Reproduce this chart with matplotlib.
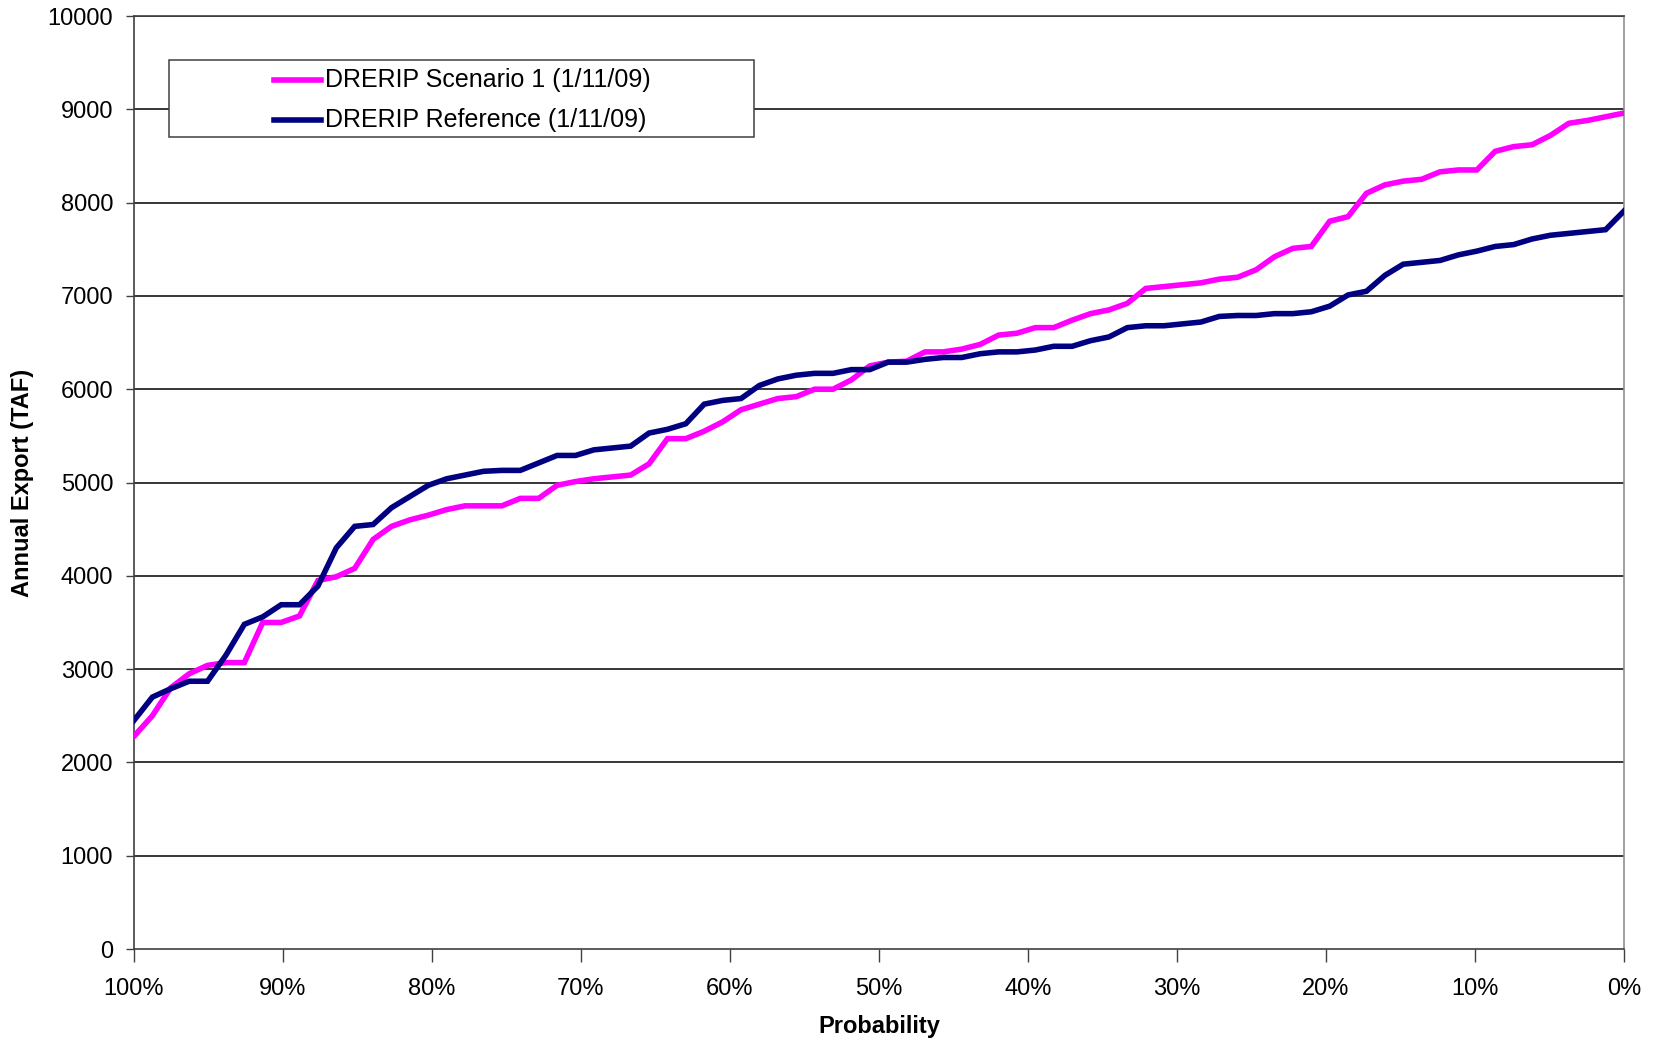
"""Exceedance plot of annual export: DRERIP Scenario 1 vs Reference."""
import numpy as np
import matplotlib
matplotlib.use("Agg")
import matplotlib.pyplot as plt
from matplotlib.patches import Rectangle
from matplotlib.ticker import FixedLocator

plt.rcParams["font.family"] = ["Liberation Sans", "DejaVu Sans"]

# annual export (TAF), sorted ascending, one value per simulated year
scenario1 = [2280, 2500, 2800, 2950, 3040, 3070, 3070, 3500, 3500, 3570,
             3950, 3990, 4080, 4390, 4530, 4600, 4650, 4710, 4750, 4750,
             4750, 4830, 4830, 4970, 5010, 5040, 5060, 5080, 5200, 5470,
             5470, 5550, 5650, 5780, 5840, 5900, 5920, 6000, 6000, 6100,
             6250, 6290, 6300, 6400, 6400, 6430, 6480, 6580, 6600, 6660,
             6660, 6740, 6810, 6850, 6920, 7080, 7100, 7120, 7140, 7180,
             7200, 7280, 7420, 7510, 7530, 7800, 7850, 8100, 8190, 8230,
             8250, 8330, 8350, 8350, 8550, 8600, 8620, 8720, 8850, 8880,
             8920, 8960]
reference = [2450, 2700, 2790, 2870, 2870, 3150, 3480, 3560, 3690, 3690,
             3890, 4300, 4530, 4550, 4730, 4850, 4970, 5040, 5080, 5120,
             5130, 5130, 5210, 5290, 5290, 5350, 5370, 5390, 5530, 5570,
             5630, 5840, 5880, 5900, 6040, 6110, 6150, 6170, 6170, 6210,
             6210, 6290, 6290, 6320, 6340, 6340, 6380, 6400, 6400, 6420,
             6460, 6460, 6520, 6560, 6660, 6680, 6680, 6700, 6720, 6780,
             6790, 6790, 6810, 6810, 6830, 6890, 7010, 7050, 7220, 7340,
             7360, 7380, 7440, 7480, 7530, 7550, 7610, 7650, 7670, 7690,
             7710, 7910]
labels = ["DRERIP Scenario 1 (1/11/09)", "DRERIP Reference (1/11/09)"]
colors = ["#FF00FF", "#000080"]
x_ticks = [100, 90, 80, 70, 60, 50, 40, 30, 20, 10, 0]
y_ticks = list(range(0, 10001, 1000))

# plotting position: evenly spaced exceedance probability
prob = np.linspace(100, 0, len(scenario1))

fig = plt.figure(figsize=(16.58, 10.39), dpi=100)
ax = fig.add_axes([0.0808, 0.0866, 0.8987, 0.898])

for yv in y_ticks[1:]:
    ax.axhline(yv, color="black", lw=1.1, zorder=1)
for series, c in zip([scenario1, reference], colors):
    ax.plot(prob, series, color=c, lw=4.0, solid_joinstyle="miter", zorder=3)

ax.set_xlim(100, 0)
ax.set_ylim(0, 10000)
ax.xaxis.set_major_locator(FixedLocator(x_ticks))
ax.set_xticklabels([f"{t}%" for t in x_ticks])
ax.set_yticks(y_ticks)
ax.tick_params(axis="both", labelsize=17, color="#404040", width=1)
ax.tick_params(axis="x", length=9, pad=12)
ax.tick_params(axis="y", length=6, pad=9)
for s in ["left", "bottom", "top"]:
    ax.spines[s].set_color("#404040")
    ax.spines[s].set_linewidth(1.2)
ax.spines["right"].set_color("#909090")
ax.spines["right"].set_linewidth(1.2)

ax.set_xlabel("Probability", fontsize=17, fontweight="bold", labelpad=11)
ax.set_ylabel("Annual Export (TAF)", fontsize=17, fontweight="bold", labelpad=10)

# Excel-style legend box
ax.add_patch(Rectangle((0.0235, 0.870), 0.3925, 0.083, transform=ax.transAxes,
                       facecolor="white", edgecolor="#404040", lw=1.1, zorder=5))
for k, (lab, c) in enumerate(zip(labels, colors)):
    yy = 0.931 - k * 0.042
    ax.plot([0.0937, 0.1253], [yy, yy], transform=ax.transAxes, color=c,
            lw=4.0, zorder=6, clip_on=False)
    ax.text(0.1282, yy, lab, transform=ax.transAxes, fontsize=18,
            va="center", ha="left", zorder=6)

fig.savefig("out.png", dpi=100)
plt.close(fig)
